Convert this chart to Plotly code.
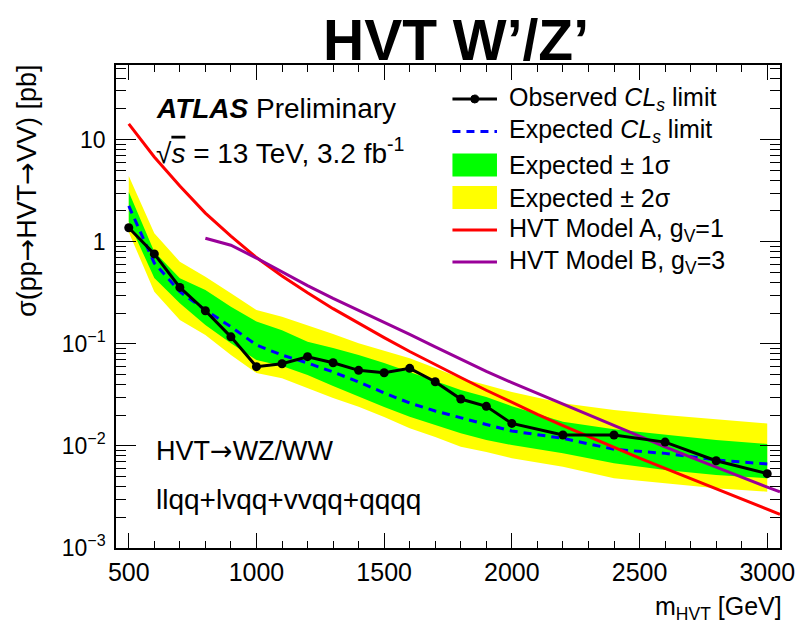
import plotly.graph_objects as go

# ---------------- data ----------------
mass = [500, 600, 700, 800, 900, 1000, 1100, 1200, 1300, 1400, 1500,
        1600, 1700, 1800, 1900, 2000, 2200, 2400, 2600, 2800, 3000]
observed = [1.37, 0.76, 0.357, 0.211, 0.117, 0.0597, 0.0638, 0.0748, 0.0653,
            0.055, 0.0521, 0.0575, 0.0425, 0.0288, 0.0244, 0.0166, 0.0128,
            0.0128, 0.0109, 0.00716, 0.00535]
expected = [2.24, 0.618, 0.324, 0.214, 0.147, 0.0973, 0.0776, 0.0649, 0.0530,
            0.0423, 0.0330, 0.0263, 0.0220, 0.0188, 0.0162, 0.0140, 0.01186,
            0.00927, 0.00845, 0.00728, 0.00665]
exp_p1 = [3.07, 0.798, 0.438, 0.336, 0.231, 0.165, 0.136, 0.105, 0.0910,
          0.0777, 0.0649, 0.0533, 0.0432, 0.0353, 0.0301, 0.0245, 0.01726,
          0.01454, 0.01279, 0.01142, 0.01044]
exp_m1 = [1.56, 0.441, 0.249, 0.153, 0.101, 0.0694, 0.0606, 0.0495, 0.0386,
          0.0303, 0.0240, 0.0193, 0.0160, 0.01328, 0.01142, 0.01021, 0.00845,
          0.00676, 0.00581, 0.00519, 0.00482]
exp_p2 = [4.40, 1.21, 0.637, 0.454, 0.312, 0.214, 0.184, 0.153, 0.125, 0.101,
          0.0850, 0.0721, 0.0579, 0.0459, 0.0395, 0.0337, 0.0261, 0.0225,
          0.0201, 0.0182, 0.0166]
exp_m2 = [1.24, 0.324, 0.171, 0.122, 0.0777, 0.0518, 0.0459, 0.0367, 0.0294,
          0.0242, 0.0192, 0.01487, 0.01223, 0.00982, 0.00871, 0.00756,
          0.00625, 0.00482, 0.00430, 0.00384, 0.00356]

model_a_mass = [500, 600, 700, 800, 900, 1000, 1100, 1200, 1300, 1400, 1500,
                1600, 1700, 1800, 1900, 2000, 2100, 2200, 2300, 2400, 2500,
                2600, 2700, 2800, 2900, 3000, 3050]
model_a = [14.29, 6.76, 3.51, 1.905, 1.135, 0.700, 0.462, 0.316, 0.221, 0.158,
           0.115, 0.0841, 0.0624, 0.0468, 0.0351, 0.0266, 0.0204, 0.0158,
           0.0123, 0.00966, 0.00759, 0.00603, 0.00479, 0.00380, 0.00302,
           0.00240, 0.00214]

model_b_mass = [800, 900, 1000, 1100, 1200, 1300, 1400, 1500, 1600, 1700,
                1800, 1900, 2000, 2100, 2200, 2300, 2400, 2500, 2600, 2700,
                2800, 2900, 3000, 3050]
model_b = [1.08, 0.923, 0.692, 0.507, 0.372, 0.279, 0.214, 0.164, 0.124,
           0.0933, 0.0708, 0.0537, 0.0417, 0.0327, 0.0257, 0.0204, 0.0158,
           0.01245, 0.00977, 0.00776, 0.00617, 0.00490, 0.00394, 0.00355]

x_ticks = [500, 1000, 1500, 2000, 2500, 3000]
y_tickvals = [1e-3, 1e-2, 1e-1, 1, 10]
y_ticktext = ["10<sup>\u22123</sup>", "10<sup>\u22122</sup>", "10<sup>\u22121</sup>", "1", "10"]

ARROW = "<span style='font-family:DejaVu Sans'>\u2192</span>"
legend_labels = ["Observed <i>CL<sub>s</sub></i> limit",
                 "Expected <i>CL<sub>s</sub></i> limit",
                 "Expected \u00b1 1\u03c3",
                 "Expected \u00b1 2\u03c3",
                 "HVT Model A, g<sub>V</sub>=1",
                 "HVT Model B, g<sub>V</sub>=3"]

# ---------------- layout constants ----------------
W, H = 807, 629
L, R, T, B = 116, 20, 65, 81
PW, PH = W - L - R, H - T - B
FONT = "Liberation Sans, Arial, Helvetica, sans-serif"

C_YEL = "#ffff00"
C_GRN = "#00ff00"
C_BLUE = "#0000ff"
C_RED = "#ff0000"
C_PURP = "#990099"


def px(x):
    return (x - L) / PW


def py(y):
    return (H - B - y) / PH


fig = go.Figure()

# 2 sigma band
fig.add_trace(go.Scatter(x=mass + mass[::-1], y=exp_p2 + exp_m2[::-1],
                         fill="toself", fillcolor=C_YEL, mode="lines",
                         line=dict(width=0, color=C_YEL), hoverinfo="skip"))
# 1 sigma band
fig.add_trace(go.Scatter(x=mass + mass[::-1], y=exp_p1 + exp_m1[::-1],
                         fill="toself", fillcolor=C_GRN, mode="lines",
                         line=dict(width=0, color=C_GRN), hoverinfo="skip"))
# expected
fig.add_trace(go.Scatter(x=mass, y=expected, mode="lines",
                         line=dict(color=C_BLUE, width=3, dash="8px,6px")))
# models
fig.add_trace(go.Scatter(x=model_a_mass, y=model_a, mode="lines",
                         line=dict(color=C_RED, width=3)))
fig.add_trace(go.Scatter(x=model_b_mass, y=model_b, mode="lines",
                         line=dict(color=C_PURP, width=3)))
# observed
fig.add_trace(go.Scatter(x=mass, y=observed, mode="lines+markers",
                         line=dict(color="black", width=3),
                         marker=dict(color="black", size=9)))

axis_common = dict(showline=True, linecolor="black", linewidth=1.5,
                   mirror="ticks", ticks="inside", tickcolor="black",
                   tickwidth=1.2, showgrid=False, zeroline=False)

fig.update_xaxes(range=[450, 3050], tickvals=x_ticks, ticklen=15,
                 tickfont=dict(size=25, family=FONT, color="black"),
                 ticklabelstandoff=1,
                 minor=dict(dtick=100, ticks="inside", ticklen=7,
                            tickcolor="black", tickwidth=1.2, showgrid=False),
                 **axis_common)
fig.update_yaxes(type="log", range=[-3, 1.731], tickvals=y_tickvals,
                 ticktext=y_ticktext, ticklen=20,
                 tickfont=dict(size=23, family=FONT, color="black"),
                 ticklabelstandoff=4,
                 minor=dict(dtick="D1", ticks="inside", ticklen=10,
                            tickcolor="black", tickwidth=1.2, showgrid=False),
                 **axis_common)

ann = []


def text(x, y, s, size, xanchor="left", yanchor="middle", angle=0):
    ann.append(dict(x=px(x), y=py(y), xref="paper", yref="paper", text=s,
                    showarrow=False, xanchor=xanchor, yanchor=yanchor,
                    textangle=angle,
                    font=dict(size=size, family=FONT, color="black")))


# title
text(460, 40, "<b>HVT W\u2019/Z\u2019</b>", 57, xanchor="center")
# ATLAS label
text(154, 108, "<b><i>ATLAS</i></b> Preliminary", 28)
text(154, 151, "\u221a<span style='text-decoration:overline'><i>s</i></span> = 13 TeV, 3.2 fb<sup>-1</sup>", 28)
# channel labels
text(154, 450, "HVT" + ARROW + "WZ/WW", 27)
text(154, 499, "llqq+lvqq+vvqq+qqqq", 28)
# axis titles
text(791, 608, "m<sub>HVT</sub> [GeV]", 25, xanchor="right")
ann.append(dict(x=px(26), y=py(63), xref="paper", yref="paper",
                text="\u03c3(pp" + ARROW + "HVT" + ARROW + "VV) [pb]", showarrow=False,
                xanchor="center", yanchor="top", textangle=-90,
                font=dict(size=27, family=FONT, color="black")))

# legend (manual, ROOT style)
rows = [99, 131.5, 165, 197.5, 230, 262]
sx0, sx1, tx = 456, 501, 511
shapes = []
for yy, lab in zip(rows, legend_labels):
    text(tx, yy, lab, 25)
shapes.append(dict(type="line", xref="paper", yref="paper", x0=px(sx0), x1=px(sx1),
                   y0=py(rows[0]), y1=py(rows[0]), line=dict(color="black", width=3)))
shapes.append(dict(type="circle", xref="paper", yref="paper",
                   x0=px(478.5 - 4), x1=px(478.5 + 4), y0=py(rows[0] + 4), y1=py(rows[0] - 4),
                   fillcolor="black", line=dict(color="black", width=1)))
shapes.append(dict(type="line", xref="paper", yref="paper", x0=px(sx0), x1=px(sx1),
                   y0=py(rows[1]), y1=py(rows[1]),
                   line=dict(color=C_BLUE, width=3, dash="8px,6px")))
shapes.append(dict(type="rect", xref="paper", yref="paper", x0=px(sx0), x1=px(sx1),
                   y0=py(rows[2] + 11.5), y1=py(rows[2] - 11.5),
                   fillcolor=C_GRN, line=dict(width=0)))
shapes.append(dict(type="rect", xref="paper", yref="paper", x0=px(sx0), x1=px(sx1),
                   y0=py(rows[3] + 11.5), y1=py(rows[3] - 11.5),
                   fillcolor=C_YEL, line=dict(width=0)))
shapes.append(dict(type="line", xref="paper", yref="paper", x0=px(sx0), x1=px(sx1),
                   y0=py(rows[4]), y1=py(rows[4]), line=dict(color=C_RED, width=3)))
shapes.append(dict(type="line", xref="paper", yref="paper", x0=px(sx0), x1=px(sx1),
                   y0=py(rows[5]), y1=py(rows[5]), line=dict(color=C_PURP, width=3)))

fig.update_layout(width=W, height=H, margin=dict(l=L, r=R, t=T, b=B),
                  paper_bgcolor="white", plot_bgcolor="white",
                  showlegend=False, annotations=ann, shapes=shapes,
                  font=dict(family=FONT, color="black"))

fig.write_html("out.html")
